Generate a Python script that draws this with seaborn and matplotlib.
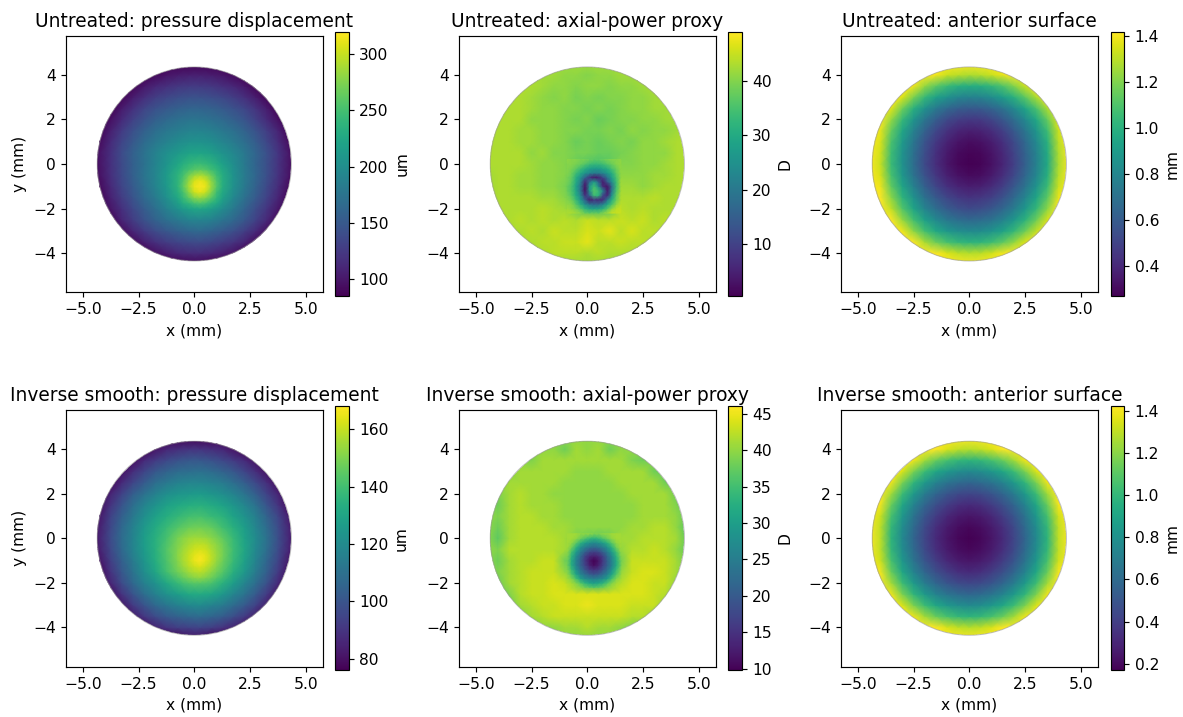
import numpy as np
import matplotlib
matplotlib.use("Agg")
import matplotlib.pyplot as plt
from matplotlib.patches import Circle
from matplotlib.transforms import Affine2D
import seaborn as sns

sns.set_theme(style="ticks", rc={
    "font.size": 10.6, "axes.titlesize": 12.75, "axes.labelsize": 10.6,
    "xtick.labelsize": 10.6, "ytick.labelsize": 10.6,
    "axes.linewidth": 0.8, "xtick.major.width": 0.8, "ytick.major.width": 0.8,
    "xtick.major.size": 3.5, "ytick.major.size": 3.5,
    "axes.edgecolor": "black", "text.color": "black", "axes.labelcolor": "black",
    "xtick.color": "black", "ytick.color": "black",
})
plt.rcParams["font.family"] = ["DejaVu Sans"]

x_ticks = [-5.0, -2.5, 0.0, 2.5, 5.0]
x_tick_labels = ["\u22125.0", "\u22122.5", "0.0", "2.5", "5.0"]
y_ticks = [-4, -2, 0, 2, 4]
y_tick_labels = ["\u22124", "\u22122", "0", "2", "4"]

# rows run top to bottom (y = 4.5 ... -4.5), 0.5 mm apart
untreated_disp = [
    [85]*20,
    [85]*6 + [90,97,102,105,106,103,98,91] + [85]*6,
    [85,85,85,85,87,100,110,117,122,125,125,122,117,110,100,87,85,85,85,85],
    [85,85,85,88,103,116,127,134,140,143,143,140,135,127,117,103,88,85,85,85],
    [85,85,85,102,118,132,143,150,156,160,160,157,151,143,133,119,103,85,85,85],
    [85,85,95,113,130,144,156,164,171,175,175,171,165,156,146,130,113,95,85,85],
    [85,86,106,126,142,157,169,178,184,189,190,186,179,171,159,144,127,108,86,85],
    [85,92,113,133,150,166,179,189,197,203,205,200,192,182,169,153,135,115,93,85],
    [85,97,118,139,157,174,189,201,211,220,222,217,206,194,179,161,142,121,98,85],
    [85,97,118,138,156,173,190,207,224,240,245,237,219,200,180,160,141,120,98,85],
    [85,96,117,137,156,175,192,212,236,264,279,261,231,205,182,162,141,119,97,85],
    [85,91,112,133,152,171,190,210,237,275,315,272,232,203,180,158,137,115,92,85],
    [85,86,107,127,146,165,182,202,226,254,269,251,221,195,172,152,131,109,87,85],
    [85,85,98,118,136,153,170,187,204,220,225,217,199,180,160,140,121,100,85,85],
    [85,85,88,109,127,144,159,171,181,190,192,187,176,164,149,131,112,91,85,85],
    [85,85,85,93,110,126,139,149,157,163,165,160,152,142,129,113,95,85,85,85],
    [85,85,85,85,91,106,118,127,133,138,139,135,128,120,108,93,85,85,85,85],
    [85]*6 + [96,104,111,114,115,111,106,97] + [85]*6,
    [85]*9 + [89,89] + [85]*9,
]

# peak patch, 0.25 mm apart
untreated_disp_core = [
    [224,232,240,243,245,241,237,228,219],
    [230,242,250,258,262,258,248,240,225],
    [236,250,270,284,290,283,268,248,231],
    [236,257,282,305,312,304,280,255,232],
    [237,262,288,312,318,312,286,258,232],
    [232,252,278,302,310,300,276,248,227],
    [226,243,262,278,284,276,260,240,221],
    [215,232,240,251,255,250,238,228,210],
    [204,212,220,222,225,221,217,208,199],
]

inverse_disp = [
    [76]*20,
    [76]*6 + [81,86,88,90,90,88,86,81] + [76]*6,
    [76,76,76,76,79,87,92,96,99,101,101,99,96,92,87,80,76,76,76,76],
    [76,76,76,80,88,95,101,105,108,109,110,108,105,101,95,88,80,76,76,76],
    [76,76,78,87,95,102,109,113,116,118,118,116,114,109,103,96,88,79,76,76],
    [76,76,85,94,103,110,116,121,124,125,126,124,121,117,111,103,94,85,76,76],
    [76,79,90,100,109,117,123,128,131,133,134,132,129,124,118,110,100,90,79,76],
    [76,82,94,104,113,121,128,133,137,140,141,138,135,129,123,115,105,95,83,76],
    [76,84,96,107,116,125,132,138,143,147,148,146,140,134,127,118,108,97,85,76],
    [76,85,97,108,117,127,134,141,149,154,155,152,146,138,129,120,110,98,86,76],
    [76,84,96,107,117,126,134,143,151,158,161,157,149,139,130,119,109,97,85,76],
    [76,81,93,104,114,124,133,142,151,159,166,157,148,138,128,117,106,95,82,76],
    [76,78,90,101,111,121,130,140,148,153,156,152,144,134,125,114,104,92,80,76],
    [76,76,86,97,107,116,123,131,138,143,144,142,135,127,118,109,99,87,76,76],
    [76,76,79,90,100,109,116,122,127,131,132,130,125,118,111,102,92,81,76,76],
    [76,76,76,82,92,100,107,112,116,119,120,117,114,108,102,94,84,76,76,76],
    [76,76,76,76,83,91,97,102,105,107,108,106,103,98,92,84,76,76,76,76],
    [76]*5 + [79,85,90,93,94,95,93,90,85,80] + [76]*5,
    [76]*9 + [80,80] + [76]*9,
]

inverse_disp_core = [
    [149,152,154,155,155,154,152,149,146],
    [150,153,156,158,159,158,155,152,148],
    [151,155,158,161,162,161,157,153,149],
    [152,156,160,164,166,164,159,154,149],
    [151,156,160,165,167,164,159,153,148],
    [150,154,158,161,163,160,156,151,146],
    [148,151,155,157,158,156,152,148,144],
    [143,147,150,152,153,151,148,144,140],
    [138,141,143,144,144,143,142,138,135],
]

untreated_power = [
    [42]*19,
    [43,43,43,43,43,42,42,41,41,40,41,41,42,42,43,43,43,43,43],
    [43,43,43,43,43,42,41,41,40,41,41,40,41,41,42,43,43,43,43],
    [43,43,43,43,42,41,40,41,39,40,39,40,40,41,41,42,43,43,43],
    [43,43,43,43,42,41,41,40,40,39,40,39,40,41,41,42,42,43,43],
    [43,43,43,43,41,41,41,40,39,40,38,39,40,40,41,41,42,42,43],
    [43,43,43,42,42,41,41,40,40,39,39,40,39,41,40,41,41,42,43],
    [43,43,43,42,42,41,41,40,38,39,38,39,40,39,41,41,42,43,43],
    [43,43,43,43,41,42,40,40,39,39,38,38,39,40,41,41,41,43,43],
    [43,43,43,43,42,41,41,40,38,36,35,37,40,40,41,41,42,43,43],
    [42,43,43,42,42,41,41,40,36,33,30,31,41,41,41,42,42,43,43],
    [42,43,43,42,42,41,41,39,35,33,30,33,42,42,41,42,43,43,43],
    [42,43,43,43,43,42,42,40,36,35,33,35,43,43,43,44,43,43,43],
    [42,43,43,43,43,44,43,42,38,33,33,36,44,43,44,43,43,43,42],
    [42,43,43,44,43,44,43,44,43,45,44,44,45,44,45,43,44,43,42],
    [42,42,43,43,44,43,45,44,44,46,45,47,44,46,44,44,43,43,42],
    [42,42,42,43,43,44,44,45,45,47,44,44,45,44,44,43,43,42,42],
    [42,42,42,43,43,43,44,44,44,43,44,43,43,43,43,42,42,42,42],
    [42]*19,
]

# finer patch round the central ring, 0.2 mm apart
untreated_power_core = [
    [41,40,40,39,39,38,37,37,38,39,40,40,41],
    [40,40,39,38,36,34,33,33,34,36,38,40,41],
    [40,39,37,34,31,28,27,27,29,31,35,38,41],
    [40,38,34,30,26,23,21,21,23,27,31,37,41],
    [39,37,31,25,16,8,4,5,11,19,28,35,41],
    [39,36,30,22,6,18,28,16,4,14,24,34,42],
    [38,35,28,19,3,26,34,24,6,3,18,34,42],
    [38,35,29,19,3,25,36,33,22,4,20,35,42],
    [39,36,30,23,7,16,34,32,11,6,25,37,43],
    [40,38,33,26,15,4,8,6,7,20,31,38,43],
    [41,40,36,31,24,19,17,17,22,29,35,41,44],
    [42,41,39,36,32,29,28,29,31,36,41,44,45],
    [43,43,42,41,38,37,38,37,40,42,45,45,45],
]

inverse_power = [
    [40]*19,
    [40,40,40,40,40,40,40,38,41,40,41,38,40,40,40,40,40,40,40],
    [40,40,40,40,39,41,41,41,41,41,41,41,41,39,38,40,40,40,40],
    [40,40,39,41,41,41,41,41,40,40,40,41,41,41,41,38,38,40,40],
    [40,40,41,41,41,41,41,40,40,40,40,40,41,41,41,41,38,38,40],
    [40,39,41,42,41,41,40,40,40,40,40,40,40,41,41,41,41,38,38],
    [40,38,41,42,41,41,41,40,40,40,40,40,40,40,41,41,41,39,37],
    [40,39,41,42,42,41,41,40,40,40,40,40,40,40,41,41,41,40,37],
    [40,38,41,42,42,42,41,41,40,40,40,40,40,41,41,42,42,40,36],
    [40,37,41,42,42,42,42,41,39,38,37,38,41,41,42,42,42,41,37],
    [40,39,42,42,42,42,42,41,38,35,33,34,40,42,42,43,42,40,37],
    [40,38,41,42,42,43,43,38,37,35,33,35,38,43,43,43,43,41,38],
    [40,39,41,42,43,43,43,40,38,36,35,36,40,43,44,44,43,41,38],
    [40,38,41,42,43,43,44,43,38,33,32,37,42,44,44,43,43,40,38],
    [40,38,39,42,43,43,44,44,44,44,44,44,44,44,44,43,42,38,39],
    [40,39,38,41,42,43,43,44,44,45,44,44,44,43,43,43,40,38,40],
    [40,40,38,39,41,42,43,43,43,43,43,43,43,42,42,40,38,39,40],
    [40,40,40,40,38,40,40,41,41,42,41,41,40,39,38,40,40,40,40],
    [40]*19,
]

inverse_power_core = [
    [41,41,41,40,40,40,39,39,40,40,41,41,41],
    [41,41,40,38,36,34,33,34,36,38,40,41,41],
    [41,40,37,33,30,28,27,28,30,33,37,40,41],
    [41,38,33,28,25,23,22,23,25,28,33,38,41],
    [40,35,30,25,21,18,17,18,21,25,30,35,40],
    [39,33,27,22,17,14,13,14,17,22,27,33,39],
    [38,32,26,21,16,12,10,12,16,21,26,32,38],
    [38,32,26,21,17,13,11,13,17,21,26,32,38],
    [39,34,28,23,19,16,15,16,19,23,28,34,39],
    [40,36,31,26,23,20,19,20,23,26,31,36,40],
    [41,39,35,30,27,26,25,26,27,30,35,39,41],
    [42,41,39,36,33,31,30,31,33,36,39,41,42],
    [43,42,41,40,38,37,36,37,38,40,41,42,43],
]

untreated_surface = [
    [1.5]*19,
    [1.5]*5 + [1.48,1.40,1.33,1.30,1.28,1.29,1.33,1.38,1.46] + [1.5]*5,
    [1.5,1.5,1.5,1.5,1.39,1.24,1.13,1.05,1.00,.98,.99,1.03,1.10,1.20,1.33,1.48,1.5,1.5,1.5],
    [1.5,1.5,1.5,1.36,1.19,1.04,.93,.85,.80,.78,.79,.83,.90,1.00,1.13,1.28,1.47,1.5,1.5],
    [1.5,1.5,1.37,1.17,1.00,.85,.74,.66,.61,.59,.60,.64,.71,.81,.94,1.09,1.28,1.5,1.5],
    [1.5,1.47,1.24,1.04,.87,.72,.61,.53,.48,.46,.47,.51,.58,.68,.81,.96,1.15,1.37,1.5],
    [1.5,1.38,1.15,.95,.78,.63,.52,.44,.39,.37,.38,.42,.49,.59,.72,.87,1.06,1.33,1.5],
    [1.5,1.36,1.09,.89,.72,.57,.46,.38,.33,.31,.32,.36,.43,.53,.66,.81,1.00,1.30,1.47],
    [1.5,1.34,1.06,.86,.69,.54,.43,.35,.30,.28,.29,.33,.40,.50,.63,.78,.97,1.28,1.44],
    [1.5,1.33,1.05,.85,.68,.53,.42,.34,.29,.27,.28,.32,.39,.49,.62,.77,.96,1.27,1.43],
    [1.5,1.35,1.08,.88,.71,.56,.45,.37,.32,.30,.31,.35,.42,.52,.65,.80,.99,1.29,1.46],
    [1.5,1.39,1.14,.94,.77,.62,.51,.43,.38,.36,.37,.41,.48,.58,.71,.86,1.05,1.33,1.5],
    [1.5,1.45,1.22,1.02,.85,.70,.59,.51,.46,.44,.45,.49,.56,.66,.79,.94,1.13,1.38,1.5],
    [1.5,1.5,1.31,1.11,.94,.79,.68,.60,.55,.53,.54,.58,.65,.75,.88,1.03,1.22,1.44,1.5],
    [1.5,1.5,1.44,1.24,1.07,.92,.81,.73,.68,.66,.67,.71,.78,.88,1.01,1.16,1.35,1.5,1.5],
    [1.5,1.5,1.5,1.39,1.22,1.07,.96,.88,.83,.81,.82,.86,.93,1.03,1.16,1.31,1.5,1.5,1.5],
    [1.5]*4 + [1.42,1.27,1.16,1.08,1.03,1.01,1.02,1.06,1.13,1.23,1.36] + [1.5]*4,
    [1.5]*6 + [1.42,1.36,1.31,1.29,1.30,1.34,1.40,1.48] + [1.5]*5,
    [1.5]*19,
]

inverse_surface = [
    [1.5]*19,
    [1.5]*5 + [1.49,1.42,1.35,1.30,1.28,1.30,1.35,1.42,1.49] + [1.5]*5,
    [1.5,1.5,1.5,1.5,1.39,1.24,1.13,1.05,1.00,.98,1.00,1.05,1.13,1.24,1.39,1.5,1.5,1.5,1.5],
    [1.5,1.5,1.5,1.35,1.17,1.02,.91,.83,.78,.76,.78,.83,.91,1.02,1.17,1.35,1.5,1.5,1.5],
    [1.5,1.5,1.39,1.17,.99,.84,.73,.65,.60,.58,.60,.65,.73,.84,.99,1.17,1.39,1.5,1.5],
    [1.5,1.49,1.24,1.02,.84,.69,.58,.50,.45,.43,.45,.50,.58,.69,.84,1.02,1.24,1.49,1.5],
    [1.5,1.40,1.13,.91,.73,.58,.47,.39,.34,.32,.34,.39,.47,.58,.73,.91,1.13,1.40,1.5],
    [1.5,1.33,1.05,.83,.65,.50,.39,.31,.26,.24,.26,.31,.39,.50,.65,.83,1.05,1.33,1.5],
    [1.5,1.30,1.00,.78,.60,.45,.34,.26,.21,.19,.21,.26,.34,.45,.60,.78,1.00,1.30,1.5],
    [1.5,1.30,.98,.76,.58,.43,.32,.24,.19,.17,.19,.24,.32,.43,.58,.76,.98,1.30,1.5],
    [1.5,1.30,1.00,.78,.60,.45,.34,.26,.21,.19,.21,.26,.34,.45,.60,.78,1.00,1.30,1.5],
    [1.5,1.33,1.05,.83,.65,.50,.39,.31,.26,.24,.26,.31,.39,.50,.65,.83,1.05,1.33,1.5],
    [1.5,1.40,1.13,.91,.73,.58,.47,.39,.34,.32,.34,.39,.47,.58,.73,.91,1.13,1.40,1.5],
    [1.5,1.49,1.24,1.02,.84,.69,.58,.50,.45,.43,.45,.50,.58,.69,.84,1.02,1.24,1.49,1.5],
    [1.5,1.5,1.39,1.17,.99,.84,.73,.65,.60,.58,.60,.65,.73,.84,.99,1.17,1.39,1.5,1.5],
    [1.5,1.5,1.5,1.35,1.17,1.02,.91,.83,.78,.76,.78,.83,.91,1.02,1.17,1.35,1.5,1.5,1.5],
    [1.5,1.5,1.5,1.5,1.39,1.24,1.13,1.05,1.00,.98,1.00,1.05,1.13,1.24,1.39,1.5,1.5,1.5,1.5],
    [1.5]*5 + [1.49,1.42,1.35,1.30,1.28,1.30,1.35,1.42,1.49] + [1.5]*5,
    [1.5]*19,
]

titles = [
    "Untreated: pressure displacement", "Untreated: axial-power proxy", "Untreated: anterior surface",
    "Inverse smooth: pressure displacement", "Inverse smooth: axial-power proxy", "Inverse smooth: anterior surface",
]
units = ["um", "D", "mm", "um", "D", "mm"]
vmins = [85, 0.5, 0.27, 76, 9.8, 0.17]
vmaxs = [320, 49, 1.42, 168, 46, 1.42]
grids = [untreated_disp, untreated_power, untreated_surface, inverse_disp, inverse_power, inverse_surface]
x_starts = [-4.75, -4.5, -4.5, -4.75, -4.5, -4.5]
core_grids = [untreated_disp_core, untreated_power_core, None, inverse_disp_core, inverse_power_core, None]
core_x_starts = [-0.75, -0.9, None, -0.75, -0.9, None]
core_y_starts = [-2.0, -2.2, None, -2.0, -2.2, None]
core_steps = [0.25, 0.2, None, 0.25, 0.2, None]

W, H = 1183, 717
fig = plt.figure(figsize=(W / 105, H / 105))
ax_lefts = [66, 459, 841]
cb_lefts = [335.3, 728.3, 1111]
ax_tops = [35.7, 410]
cb_tops = [31.7, 406.3]


def add_layer(ax, rows, x0, y0, step, vmin, vmax, clip, cax=None, label=None):
    n_before = len(ax.collections)
    sns.heatmap(np.flipud(np.array(rows, dtype=float)), ax=ax, cmap="viridis", vmin=vmin, vmax=vmax,
                cbar=cax is not None, cbar_ax=cax, cbar_kws={"label": label} if cax is not None else None,
                xticklabels=False, yticklabels=False, shading="gouraud")
    mesh = ax.collections[n_before]
    mesh.set_transform(Affine2D().scale(step).translate(x0, y0) + ax.transData)
    mesh.set_clip_path(clip)
    return mesh


for i in range(6):
    row, col = i // 3, i % 3
    ax = fig.add_axes([ax_lefts[col] / W, 1 - (ax_tops[row] + 256.5) / H, 256.7 / W, 256.5 / H])
    cax = fig.add_axes([cb_lefts[col] / W, 1 - (cb_tops[row] + 264) / H, 13.4 / W, 264 / H])
    disc = Circle((0, 0), 4.35, transform=ax.transData)

    mesh = add_layer(ax, grids[i], x_starts[i], -4.5, 0.5, vmins[i], vmaxs[i], disc, cax, units[i])
    mesh.colorbar.outline.set_linewidth(0.8)
    mesh.colorbar.outline.set_edgecolor("black")
    if core_grids[i] is not None:
        add_layer(ax, core_grids[i], core_x_starts[i], core_y_starts[i], core_steps[i], vmins[i], vmaxs[i], disc)

    ax.add_patch(Circle((0, 0), 4.35, fc="none", ec="#999999", lw=0.7, alpha=0.6))
    for spine in ax.spines.values():
        spine.set_visible(True)
    ax.set_xlim(-5.75, 5.75)
    ax.set_ylim(-5.75, 5.75)
    ax.set_xticks(x_ticks)
    ax.set_xticklabels(x_tick_labels, rotation=0)
    ax.set_yticks(y_ticks)
    ax.set_yticklabels(y_tick_labels, rotation=0)
    ax.tick_params(bottom=True, left=True)
    ax.set_title(titles[i])
    ax.set_xlabel("x (mm)")
    if col == 0:
        ax.set_ylabel("y (mm)")

fig.savefig("out.png", dpi=105)
